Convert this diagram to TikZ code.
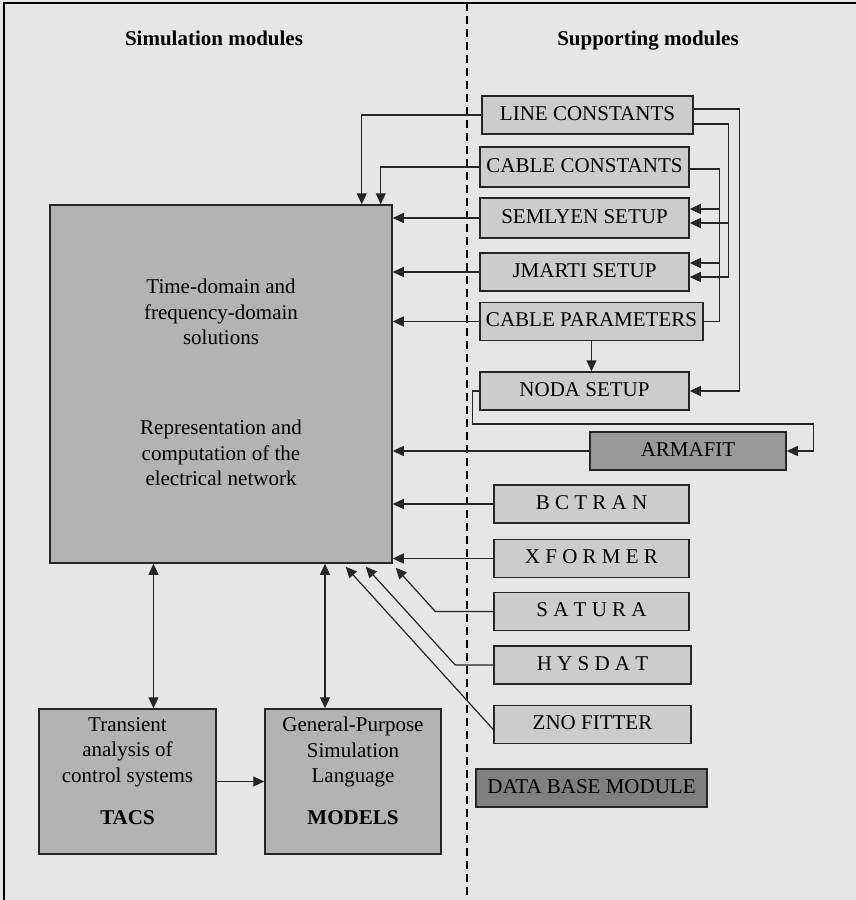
\documentclass[tikz,border=0pt]{standalone}
\usepackage{fontspec}
\setmainfont{Liberation Serif}
\usetikzlibrary{positioning, arrows.meta, calc}

\definecolor{bgcol}{HTML}{E6E6E6}
\definecolor{bigfill}{HTML}{B3B3B3}
\definecolor{modfill}{HTML}{CCCCCC}
\definecolor{armfill}{HTML}{999999}
\definecolor{dbfill}{HTML}{808080}
\definecolor{edge}{HTML}{262626}

\newcommand{\lblfont}{\fontsize{21}{25.5}\selectfont}

\begin{document}
\begin{tikzpicture}[x=1pt, y=-1pt,
        mod/.style={draw=edge, fill=modfill, line width=1.5pt, inner sep=0pt,
                    minimum height=38pt, font=\lblfont,
                    text height=14pt, text depth=4pt},
        big/.style={draw=edge, fill=bigfill, line width=1.5pt, inner sep=0pt},
        txt/.style={align=center, font=\lblfont},
        head/.style={font=\lblfont\bfseries, text height=14pt, text depth=4pt},
        link/.style={draw=edge, line width=1.2pt},
        arr/.style={link, -{Triangle[length=11pt, width=10pt]}},
        dbl/.style={link, {Triangle[length=11pt, width=10pt]}-{Triangle[length=11pt, width=10pt]}},
        divider/.style={line width=2pt, dash pattern=on 8pt off 5pt}
    ]
    % page and frame
    \fill[bgcol] (0,0) rectangle (856,900);
    \useasboundingbox (0,0) rectangle (856,900);
    \draw[line width=2pt] (4,900) -- (4,3) -- (856,3);
    \draw[divider] (467,3) -- (467,900);
    % column headings
    \node[head] (hsim) at (214,40) {Simulation modules};
    \node[head] (hsup) at (648,40) {Supporting modules};
    % simulation modules
    \node[big, minimum width=342pt, minimum height=358pt] (main) at (221,384) {};
    \node[txt] (tdom) at (221,312) {Time-domain and\\frequency-domain\\solutions};
    \node[txt] (tnet) at (221,453) {Representation and\\computation of the\\electrical network};
    \node[big, minimum width=177pt, minimum height=145pt] (tacs) at (127.5,781.5) {};
    \node[txt] (tacstxt) at (127.5,752) {Transient\\analysis of\\control systems};
    \node[head] (tacsname) at (127.5,819) {TACS};
    \node[big, minimum width=176pt, minimum height=145pt] (models) at (353,781.5) {};
    \node[txt] (modelstxt) at (353,752) {General-Purpose\\Simulation\\Language};
    \node[head] (modelsname) at (353,819) {MODELS};
    % supporting modules
    \node[mod, minimum width=211pt] (lc) at (587.5,115) {LINE CONSTANTS};
    \node[mod, minimum width=209pt, minimum height=40pt] (cc) at (584.5,167) {CABLE CONSTANTS};
    \node[mod, minimum width=209pt, minimum height=40pt] (sem) at (584.5,218) {SEMLYEN SETUP};
    \node[mod, minimum width=209pt] (jm) at (584.5,272) {JMARTI SETUP};
    \node[mod, minimum width=223pt] (cp) at (591.5,321.5) {CABLE PARAMETERS};
    \node[mod, minimum width=209pt] (noda) at (584.5,391) {NODA SETUP};
    \node[mod, minimum width=196pt, fill=armfill] (arm) at (688,451) {ARMAFIT};
    \node[mod, minimum width=195pt] (bct) at (591.5,504) {B C T R A N};
    \node[mod, minimum width=195pt] (xfm) at (591.5,558.5) {X F O R M E R};
    \node[mod, minimum width=195pt] (sat) at (591.5,611.5) {S A T U R A};
    \node[mod, minimum width=197pt] (hys) at (592.5,665) {H Y S D A T};
    \node[mod, minimum width=197pt] (zno) at (592.5,724.5) {ZNO FITTER};
    \node[mod, minimum width=231pt, fill=dbfill] (dbm) at (591.5,788) {DATA BASE MODULE};
    % inputs to the network solution
    \draw[arr] (lc.west) -| ($(main.north east)+(-31,0)$);
    \draw[arr] (cc.west) -| ($(main.north east)+(-12,0)$);
    \foreach \m in {sem, jm, cp, arm, bct, xfm}
        \draw[arr] (\m.west) -- (\m.west -| main.east);
    \draw[arr] (sat.west) -- ++(-58,0) -- ($(main.south east)+(3,4)$);
    \draw[arr] (hys.west) -- ++(-38,0) -- ($(main.south east)+(-27,3)$);
    \draw[arr] ($(zno.west)+(0,5)$) -- ($(main.south east)+(-47,3)$);
    % line and cable data buses
    \draw[arr] ($(lc.east)+(0,-6)$) -| ($(noda.east)+(50,0)$) -- (noda.east);
    \draw[arr] ($(lc.east)+(0,9)$) -| ($(jm.east)+(39,5)$) -- ($(jm.east)+(0,5)$);
    \draw[arr] ($(sem.east)+(39,5)$) -- ($(sem.east)+(0,5)$);
    \draw[link] ($(cc.east)+(0,2)$) -| ($(cp.east)+(16,0)$) -- (cp.east);
    \draw[arr] ($(sem.east)+(30,-9)$) -- ($(sem.east)+(0,-9)$);
    \draw[arr] ($(jm.east)+(30,-9)$) -- ($(jm.east)+(0,-9)$);
    \draw[arr] (cp.south) -- (cp.south |- noda.north);
    \draw[arr] (noda.west) -- ++(-7,0) -- ++(0,33) -| ($(arm.east)+(27,0)$) -- (arm.east);
    % control and models links
    \draw[dbl] ($(tacs.north)+(26,0)$) coordinate (tu) -- (tu |- main.south);
    \draw[dbl] ($(models.north)+(-28,0)$) coordinate (mu) -- (mu |- main.south);
    \draw[arr] (tacs.east) -- (models.west);
\end{tikzpicture}
\end{document}
